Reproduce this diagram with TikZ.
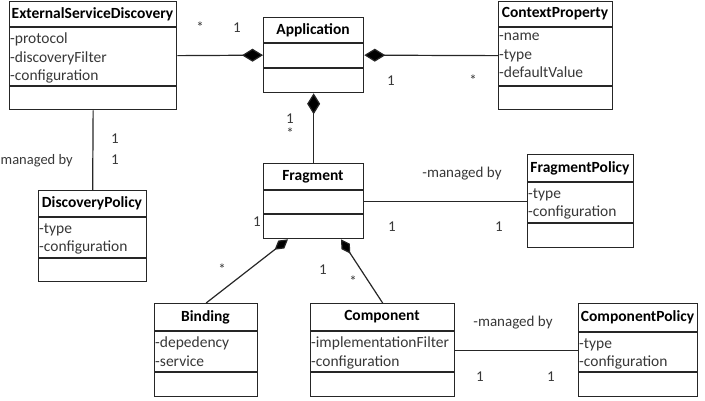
\documentclass[tikz,border=0pt]{standalone}
\usepackage{fontspec}
\setmainfont{Carlito}
\usetikzlibrary{arrows.meta,calc}
\definecolor{txt}{rgb}{0.22,0.22,0.22}
\definecolor{ln}{rgb}{0.15,0.15,0.15}
\newcommand\umlbox[9]{%
  \node[classbox, minimum width={#4-#2}, minimum height={#5-#3}, anchor=north west] (#1) at (#2,#3) {};
  \draw[sepline] (#2,#6) -- (#4,#6);
  \draw[sepline] (#2,#7) -- (#4,#7);
  \node[titletext] (#1-t) at ({(#2+#4)/2},{(#3+#6)/2}) {#8};
  \node[attrtext] (#1-a) at (#2,#6) {#9};
}
\begin{document}
\begin{tikzpicture}[x=1pt,y=-1pt,
  classbox/.style={draw=ln, line width=1.3pt, inner sep=0pt, fill=white},
  sepline/.style={draw=ln, line width=1.5pt},
  titletext/.style={font=\fontsize{15.5}{18}\selectfont\bfseries, text=black, inner sep=0pt},
  attrtext/.style={font=\fontsize{15.5}{18.5}\selectfont, text=txt, align=left, anchor=north west, inner xsep=1pt, inner ysep=2.5pt, yshift=-3.5pt},
  lbl/.style={font=\fontsize{15}{18}\selectfont, text=txt, inner sep=0pt},
  conn/.style={draw=ln, line width=1.2pt},
  dia/.style={-{Diamond[length=21pt,width=13pt,fill=black]}},
  sdia/.style={-{Diamond[length=17pt,width=10pt,fill=black]}}]
\useasboundingbox (0,0) rectangle (705,401);

\umlbox{esd}{9}{1}{176}{109}{27}{86}{ExternalServiceDiscovery}{-protocol\\-discoveryFilter\\-configuration}
\umlbox{app}{263}{17}{363}{92}{43}{68}{Application}{}
\umlbox{cp}{498}{1}{612}{109}{27}{86}{ContextProperty}{-name\\-type\\-defaultValue}
\umlbox{dp}{38}{190}{146}{281}{217}{258}{DiscoveryPolicy}{-type\\-configuration}
\umlbox{frag}{263}{163}{363}{238}{190}{214}{Fragment}{}
\umlbox{fp}{527}{154}{633}{247}{182}{223}{FragmentPolicy}{-type\\-configuration}
\umlbox{bind}{154}{303}{257}{396}{331}{372}{Binding}{-depedency\\-service}
\umlbox{comp}{310}{303}{454}{396}{331}{372}{Component}{-implementationFilter\\-configuration}
\umlbox{cpol}{578}{303}{697}{396}{332}{372}{ComponentPolicy}{-type\\-configuration}

\draw[conn,dia] (esd.east) -- (app.west);
\draw[conn,dia] (cp.west) -- (app.east);
\draw[conn,dia] (frag.north) -- (app.south);
\draw[conn] (esd.south) -- (dp.north);
\draw[conn] (frag.east) -- (fp.west);
\draw[conn] (comp.east) -- (cpol.west);
\coordinate (fb1) at ($(frag.south west)+(25,0)$);
\coordinate (fb2) at ($(frag.south west)+(78,0)$);
\draw[conn,sdia] (bind.north) -- (fb1);
\draw[conn,sdia] (comp.north) -- (fb2);

\node[lbl] (l1) at (200,27) {*};
\node[lbl] (l2) at (237,28) {1};
\node[lbl] (l3) at (391,81) {1};
\node[lbl] (l4) at (473,80) {*};
\node[lbl] (l5) at (290,119) {1};
\node[lbl] (l6) at (290,133) {*};
\node[lbl] (l7) at (115,139) {1};
\node[lbl] (l8) at (115,160) {1};
\node[lbl, anchor=west, font=\fontsize{14.5}{18}\selectfont] (l9) at (0.5,161) {managed by};
\node[lbl] (l10) at (462,174) {-managed by};
\node[lbl] (l11) at (392,227) {1};
\node[lbl] (l12) at (499,227) {1};
\node[lbl] (l13) at (257,222) {1};
\node[lbl] (l14) at (222,269) {*};
\node[lbl] (l15) at (323,270) {1};
\node[lbl] (l16) at (353,281) {*};
\node[lbl] (l17) at (513,323) {-managed by};
\node[lbl] (l18) at (480,377) {1};
\node[lbl] (l19) at (551,377) {1};
\end{tikzpicture}
\end{document}
